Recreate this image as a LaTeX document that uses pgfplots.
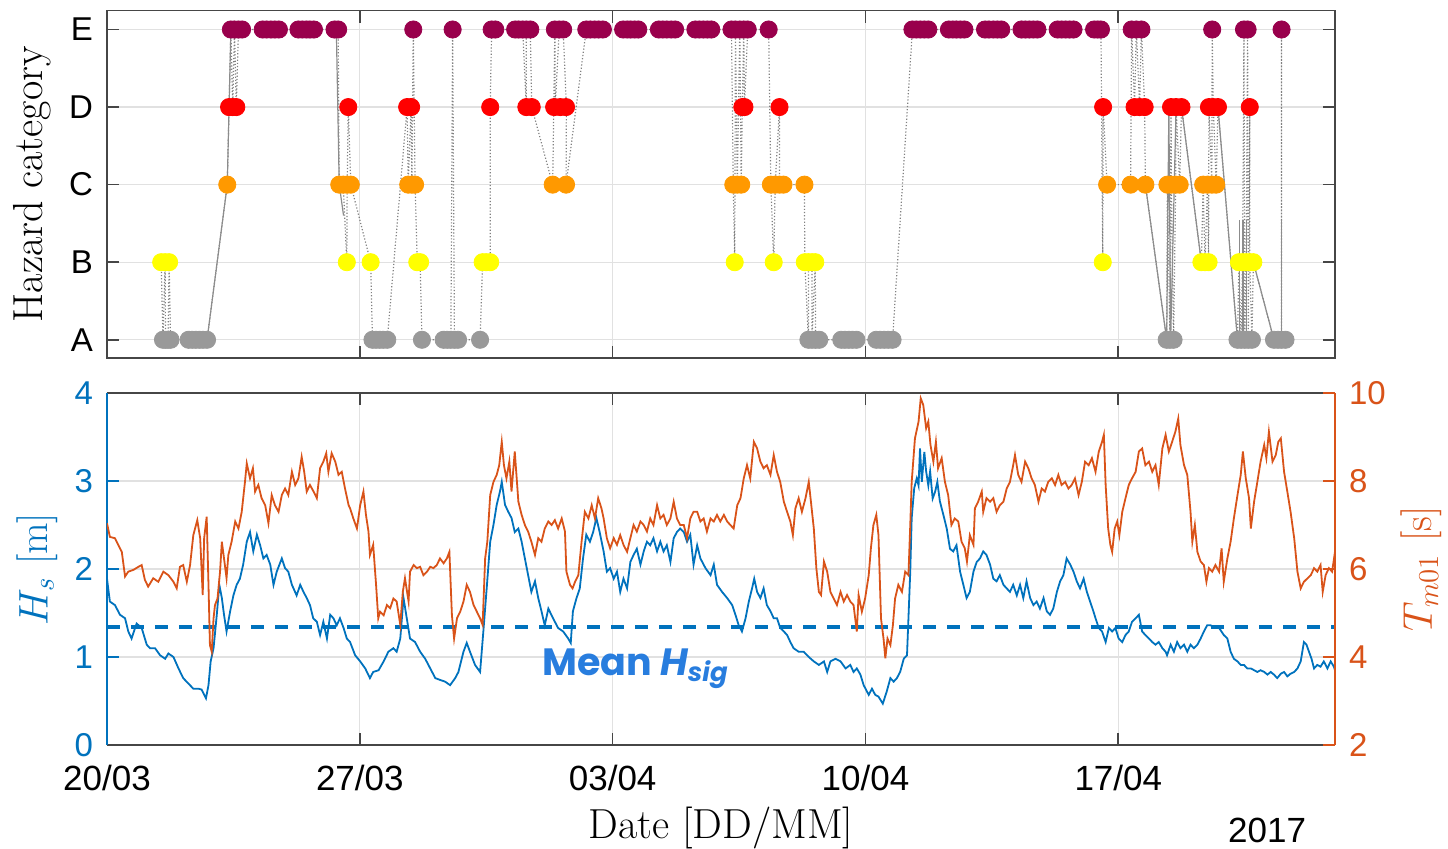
\documentclass[border=0pt]{standalone}
\usepackage{fontspec}
\usepackage{pgfplots}
\pgfplotsset{compat=1.18}
\newfontfamily\tickfont{Liberation Sans}
\newfontfamily\poppins{Poppins}
\definecolor{hsblue}{RGB}{0,114,189}
\definecolor{tmorange}{RGB}{217,83,25}
\definecolor{meanblue}{RGB}{40,125,222}
\definecolor{catE}{RGB}{153,0,76}
\definecolor{catD}{RGB}{255,0,0}
\definecolor{catC}{RGB}{255,153,0}
\definecolor{catB}{RGB}{255,255,0}
\definecolor{catA}{RGB}{153,153,153}
\definecolor{framec}{RGB}{70,70,70}
\definecolor{gridc}{RGB}{225,225,225}
\pgfplotsset{
  common/.style={
    scale only axis, width=614pt, xmin=0, xmax=34,
    xtick={0,7,14,21,28},
    tick align=inside, major tick length=6pt,
    grid style={gridc, line width=0.6pt},
    /pgf/number format/assume math mode=true,
  },
  solidlink/.style={color=black!45, line width=0.6pt},
}
\begin{document}
\begin{tikzpicture}
\path[use as bounding box] (-53.5pt,-51.5pt) rectangle (670.5pt,372.5pt);

% ---------------- top panel: hazard category ----------------
\begin{axis}[common, at={(0pt,193.5pt)}, anchor=south west, height=173.75pt,
  ymin=0.765, ymax=5.245, ytick={1,2,3,4,5}, yticklabels={A,B,C,D,E},
  xticklabels={},
  xmajorgrids, ymajorgrids,
  axis line style={framec, line width=0.9pt}, tick style={framec, line width=0.8pt},
  yticklabel style={font=\tickfont\fontsize{16.5}{16.5}\selectfont, xshift=-3.5pt},
  ylabel={Hazard category},
  ylabel style={font=\fontsize{21}{24}\selectfont, at={(axis description cs:-0.0607,0.5)}, anchor=center},
]
\addplot[color=black!50, densely dotted, line width=0.6pt] coordinates {
(1.50,2) (1.55,1) (1.61,2) (1.62,1) (1.69,1) (1.72,2) (1.76,1) (2.26,1) (2.36,1) (2.46,1) (2.56,1) (2.66,1) (2.77,1)
(3.33,3) (3.38,4) (3.43,5) (3.48,4) (3.53,5) (3.58,4) (3.64,5) (3.74,5) (4.31,5) (4.76,5) (5.30,5) (5.73,5) (6.30,5) (6.40,5)
(6.43,3) (6.54,3) (6.64,2) (6.65,3) (6.68,4) (6.75,3) (7.30,2) (7.35,1) (7.76,1) (8.31,4) (8.34,3) (8.42,4) (8.44,3) (8.48,5)
(8.53,3) (8.59,2) (8.67,2) (8.72,1) (9.32,1) (9.52,1) (9.57,5) (9.62,1) (9.72,1) (10.33,1) (10.40,2) (10.61,2) (10.61,4)
(10.65,5) (10.75,5) (11.30,5) (11.51,5) (11.61,4) (11.61,5) (11.72,5) (11.76,4) (12.34,3) (12.40,5) (12.41,4) (12.52,5)
(12.63,5) (12.72,4) (12.71,3) (13.27,5) (17.29,5) (17.34,3) (17.38,2) (17.40,5) (17.45,3) (17.52,5) (17.56,3) (17.59,4)
(17.63,5) (17.65,4) (17.74,5) (18.32,5) (18.38,3) (18.46,2) (18.50,3) (18.62,4) (18.62,3) (18.73,3) (19.31,3) (19.32,2)
(19.42,1) (19.42,2) (19.52,2) (19.52,1) (19.61,2) (19.62,1) (19.72,1) (21.75,1) (22.30,5) (27.52,5) (27.57,2) (27.58,4)
(27.69,3) (28.34,3) (28.37,5) (28.45,4) (28.50,5) (28.59,4) (28.64,5) (28.73,4) (28.75,3) (29.34,1) (29.36,3) (29.43,1)
(29.46,4) (29.47,3) (29.53,1) (29.59,3) (29.60,4) (29.70,3) (29.75,4) (30.30,2) (30.35,3) (30.40,2) (30.47,3) (30.50,2)
(30.51,4) (30.59,3) (30.60,5) (30.63,4) (30.71,3) (30.76,4) (31.30,1) (31.34,2) (31.40,1) (31.44,2) (31.48,5) (31.50,1)
(31.54,2) (31.58,5) (31.60,1) (31.64,4) (31.64,2) (31.70,1) (31.74,2) (32.31,1) (32.52,1) (32.52,5) (32.52,1) (32.63,1)
};
\addplot[solidlink] coordinates {(2.77,1) (3.33,3) (3.38,4) (3.43,5)};
\addplot[solidlink] coordinates {(6.35,5) (6.43,3) (6.55,2.6)};
\addplot[solidlink] coordinates {(28.75,3) (29.34,1) (29.40,4) (29.45,1) (29.60,4) (29.75,4) (30.30,2)};
\addplot[solidlink] coordinates {(30.76,4) (31.30,1)};
\addplot[solidlink] coordinates {(31.36,1) (31.36,2.55)};
\addplot[solidlink] coordinates {(31.45,1) (31.45,2.55)};
\addplot[solidlink] coordinates {(31.55,1) (31.55,2.55)};
\addplot[solidlink] coordinates {(31.74,2) (32.31,1)};
\addplot[solidlink] coordinates {(32.52,1) (32.52,2.55)};
% A
\addplot[only marks, mark=*, mark size=4.3pt, color=catA] coordinates {
(1.55,1) (1.62,1) (1.69,1) (1.76,1) (2.26,1) (2.36,1) (2.46,1) (2.56,1) (2.66,1) (2.77,1)
(7.35,1) (7.45,1) (7.55,1) (7.65,1) (7.76,1) (8.72,1) (9.32,1) (9.42,1) (9.52,1) (9.62,1) (9.72,1) (10.33,1)
(19.42,1) (19.52,1) (19.62,1) (19.72,1) (20.33,1) (20.43,1) (20.54,1) (20.64,1) (20.75,1)
(21.30,1) (21.41,1) (21.52,1) (21.63,1) (21.75,1) (29.34,1) (29.43,1) (29.53,1)
(31.30,1) (31.40,1) (31.50,1) (31.60,1) (31.70,1) (32.31,1) (32.42,1) (32.52,1) (32.63,1)
};
% B
\addplot[only marks, mark=*, mark size=4.3pt, color=catB] coordinates {
(1.50,2) (1.61,2) (1.72,2) (6.64,2) (7.30,2) (8.59,2) (8.67,2) (10.40,2) (10.50,2) (10.61,2)
(17.38,2) (18.46,2) (19.32,2) (19.42,2) (19.52,2) (19.61,2) (27.57,2) (30.30,2) (30.40,2) (30.50,2)
(31.34,2) (31.44,2) (31.54,2) (31.64,2) (31.74,2)
};
% C
\addplot[only marks, mark=*, mark size=4.3pt, color=catC] coordinates {
(3.33,3) (6.43,3) (6.54,3) (6.65,3) (6.75,3) (8.34,3) (8.44,3) (8.53,3) (12.34,3) (12.71,3)
(17.34,3) (17.45,3) (17.56,3) (18.38,3) (18.50,3) (18.62,3) (18.73,3) (19.31,3) (27.69,3) (28.34,3) (28.75,3)
(29.36,3) (29.47,3) (29.59,3) (29.70,3) (30.35,3) (30.47,3) (30.59,3) (30.71,3)
};
% D
\addplot[only marks, mark=*, mark size=4.3pt, color=catD] coordinates {
(3.38,4) (3.48,4) (3.58,4) (6.68,4) (8.31,4) (8.42,4) (10.61,4) (11.61,4) (11.76,4) (12.38,4) (12.55,4) (12.71,4)
(17.59,4) (17.65,4) (18.62,4) (27.58,4) (28.45,4) (28.59,4) (28.73,4) (29.46,4) (29.60,4) (29.75,4)
(30.51,4) (30.63,4) (30.76,4) (31.64,4)
};
% E
\addplot[only marks, mark=*, mark size=4.3pt, color=catE] coordinates {
(3.43,5) (3.53,5) (3.64,5) (3.74,5) (4.31,5) (4.42,5) (4.54,5) (4.65,5) (4.76,5) (5.30,5) (5.41,5) (5.52,5) (5.62,5) (5.73,5)
(6.30,5) (6.40,5) (8.48,5) (9.57,5) (10.65,5) (10.75,5) (11.30,5) (11.40,5) (11.51,5) (11.61,5) (11.72,5)
(12.40,5) (12.52,5) (12.63,5) (13.27,5) (13.38,5) (13.50,5) (13.61,5) (13.73,5) (14.29,5) (14.40,5) (14.50,5) (14.61,5) (14.71,5)
(15.28,5) (15.39,5) (15.50,5) (15.62,5) (15.73,5) (16.29,5) (16.40,5) (16.51,5) (16.62,5) (16.73,5)
(17.29,5) (17.40,5) (17.52,5) (17.63,5) (17.74,5) (18.32,5)
(22.30,5) (22.41,5) (22.52,5) (22.63,5) (22.74,5) (23.31,5) (23.42,5) (23.52,5) (23.63,5) (23.74,5)
(24.31,5) (24.42,5) (24.54,5) (24.65,5) (24.76,5) (25.32,5) (25.43,5) (25.54,5) (25.65,5) (25.76,5)
(26.32,5) (26.43,5) (26.54,5) (26.65,5) (26.76,5) (27.33,5) (27.43,5) (27.52,5) (28.37,5) (28.50,5) (28.64,5)
(30.60,5) (31.48,5) (31.58,5) (32.52,5)
};
\end{axis}

% ---------------- bottom panel: Hs (left) ----------------
\begin{axis}[common, at={(0pt,0pt)}, anchor=south west, height=176pt,
  ymin=0, ymax=4, ytick={0,1,2,3,4}, yticklabels={0,1,2,3,4},
  xticklabels={20/03,27/03,03/04,10/04,17/04},
  axis x line*=box, axis y line*=left, separate axis lines,
  x axis line style={framec, line width=0.9pt},
  y axis line style={-, hsblue, line width=0.9pt},
  xtick style={framec, line width=0.8pt}, ytick style={hsblue, line width=0.8pt},
  tick align=inside,
  xmajorgrids, ymajorgrids,
  xticklabel style={font=\tickfont\fontsize{17.5}{17.5}\selectfont, yshift=-6.5pt},
  yticklabel style={font=\tickfont\fontsize{16.5}{16.5}\selectfont, text=hsblue, xshift=-3.5pt},
  ylabel={$H_s$ [m]},
  ylabel style={font=\fontsize{20.5}{24}\selectfont, text=hsblue, at={(axis description cs:-0.0568,0.5)}, anchor=center},
  xlabel={Date [DD/MM]},
  xlabel style={font=\fontsize{21}{24}\selectfont, at={(axis description cs:0.5,-0.237)}, anchor=center},
  clip=false,
]
\addplot[color=hsblue, line width=0.9pt] coordinates {
(0,1.89) (0.08,1.63) (0.22,1.59) (0.36,1.48) (0.50,1.44) (0.59,1.29) (0.68,1.21) (0.82,1.38) (0.96,1.33) (1.10,1.14)
(1.19,1.10) (1.33,1.10) (1.47,1.02) (1.61,0.98) (1.70,1.04) (1.84,1.00) (1.98,0.87) (2.11,0.76) (2.25,0.70) (2.39,0.64)
(2.53,0.64) (2.62,0.63) (2.74,0.53) (2.81,0.68) (2.87,0.95) (2.95,1.10) (3.04,1.48) (3.11,1.82) (3.18,1.67) (3.24,1.48)
(3.31,1.29) (3.41,1.52) (3.50,1.70) (3.59,1.82) (3.68,1.89) (3.77,2.05) (3.87,2.31) (3.96,2.42) (4.05,2.20) (4.15,2.39)
(4.24,2.27) (4.33,2.12) (4.42,2.16) (4.52,2.05) (4.61,1.82) (4.70,1.97) (4.84,2.12) (4.93,2.01) (5.02,1.97) (5.12,1.82)
(5.25,1.70) (5.35,1.82) (5.44,1.74) (5.53,1.67) (5.62,1.59) (5.71,1.44) (5.81,1.40) (5.90,1.25) (5.99,1.40) (6.09,1.21)
(6.18,1.48) (6.27,1.44) (6.36,1.36) (6.45,1.44) (6.55,1.33) (6.64,1.21)
(6.73,1.17) (6.87,1.02) (7.01,0.95) (7.15,0.87) (7.28,0.76) (7.37,0.83) (7.52,0.85) (7.66,0.95) (7.79,1.06) (7.93,1.10)
(8.02,1.06) (8.12,1.21) (8.21,1.67) (8.30,1.44) (8.39,1.21) (8.53,1.17) (8.67,1.06) (8.81,0.98) (8.95,0.87) (9.09,0.76)
(9.22,0.74) (9.36,0.72) (9.50,0.68) (9.64,0.76) (9.73,0.83) (9.87,1.06) (9.96,1.16) (10.05,1.06) (10.19,0.91) (10.33,0.83)
(10.42,1.29) (10.52,1.82) (10.61,2.31) (10.70,2.50) (10.79,2.73) (10.88,2.88) (10.93,2.99) (11.02,2.73) (11.11,2.65)
(11.20,2.58) (11.29,2.42) (11.39,2.46) (11.48,2.31) (11.57,2.12) (11.66,1.93) (11.75,1.74) (11.85,1.86) (11.94,1.67)
(12.03,1.52) (12.12,1.36) (12.22,1.55) (12.35,1.44) (12.49,1.33) (12.63,1.29) (12.77,1.21) (12.84,1.16) (12.90,1.52)
(13.00,1.67) (13.09,1.78) (13.18,2.12) (13.27,2.39) (13.37,2.31) (13.46,2.42) (13.55,2.58) (13.64,2.42)
(13.75,2.20) (13.84,1.97) (13.93,2.01) (14.03,1.89) (14.12,1.97) (14.21,1.74) (14.30,1.89) (14.40,1.78) (14.49,2.08)
(14.58,2.16) (14.67,2.23) (14.77,2.05) (14.86,2.20) (14.95,2.31) (15.04,2.27) (15.13,2.35) (15.23,2.20) (15.32,2.31)
(15.41,2.20) (15.50,2.27) (15.60,2.08) (15.69,2.35) (15.78,2.42) (15.87,2.46) (15.97,2.42) (16.06,2.31) (16.15,2.39)
(16.24,2.05) (16.34,2.27) (16.43,2.12) (16.57,2.01) (16.71,1.93) (16.80,2.05) (16.89,1.82) (17.03,1.74) (17.17,1.67)
(17.31,1.59) (17.40,1.48) (17.49,1.36) (17.58,1.29) (17.68,1.44) (17.77,1.63) (17.86,1.78) (17.92,1.89) (18.00,1.74)
(18.09,1.67) (18.18,1.78) (18.27,1.59) (18.37,1.52) (18.46,1.44) (18.55,1.44) (18.64,1.33) (18.74,1.29) (18.83,1.25)
(18.92,1.17) (19.01,1.10) (19.15,1.06) (19.29,1.06) (19.43,1.00) (19.57,0.95) (19.71,0.91) (19.85,0.95) (19.94,0.83)
(20.03,0.95) (20.17,0.98) (20.31,0.95) (20.45,0.87)
(20.58,0.91) (20.67,0.83) (20.76,0.87) (20.86,0.80) (20.95,0.68) (21.09,0.57) (21.18,0.64) (21.27,0.57) (21.36,0.55)
(21.48,0.47) (21.59,0.61) (21.69,0.76) (21.78,0.72) (21.87,0.76) (21.96,0.83) (22.06,0.98) (22.15,1.02) (22.19,1.44)
(22.24,1.97) (22.28,2.58) (22.35,2.92) (22.42,3.03) (22.47,2.95) (22.51,3.37) (22.56,2.99) (22.63,3.33) (22.68,3.11)
(22.74,2.95) (22.79,3.11) (22.86,2.80) (22.93,2.88) (22.99,2.99) (23.06,2.77) (23.16,2.61) (23.25,2.46) (23.34,2.23)
(23.43,2.20) (23.52,2.27) (23.62,1.97) (23.71,1.82) (23.80,1.67) (23.89,1.74) (23.99,1.97) (24.08,2.08) (24.17,2.12)
(24.26,2.20) (24.35,2.16) (24.45,2.05) (24.54,1.89) (24.63,1.86) (24.72,1.93) (24.82,1.82) (24.91,1.78) (25.00,1.74)
(25.09,1.82) (25.19,1.70) (25.28,1.82) (25.37,1.67) (25.46,1.86) (25.56,1.67) (25.65,1.59) (25.74,1.63) (25.83,1.55)
(25.93,1.67) (26.02,1.52) (26.11,1.48) (26.20,1.55) (26.30,1.74) (26.39,1.86) (26.48,1.93) (26.57,2.12) (26.67,2.05)
(26.76,1.97) (26.85,1.86) (26.94,1.78) (27.04,1.89) (27.13,1.74) (27.22,1.63) (27.31,1.52)
(27.37,1.44) (27.46,1.33) (27.55,1.29) (27.65,1.17) (27.74,1.33) (27.83,1.29) (27.92,1.33) (28.01,1.21) (28.11,1.17)
(28.20,1.25) (28.29,1.29) (28.38,1.40) (28.48,1.44) (28.57,1.48) (28.66,1.29) (28.75,1.25) (28.85,1.21) (28.94,1.17)
(29.03,1.14) (29.12,1.17) (29.22,1.10) (29.31,1.06) (29.35,1.02) (29.45,1.14) (29.54,1.06) (29.63,1.17) (29.72,1.10)
(29.82,1.14) (29.91,1.06) (30.00,1.14) (30.09,1.10) (30.19,1.14) (30.28,1.21) (30.37,1.29) (30.46,1.36) (30.56,1.36)
(30.65,1.33) (30.79,1.33) (30.92,1.25) (31.02,1.21) (31.11,1.06) (31.20,0.98) (31.30,0.95) (31.39,0.91) (31.48,0.91)
(31.57,0.87) (31.67,0.87) (31.76,0.85) (31.85,0.83) (31.94,0.85) (32.04,0.83) (32.13,0.80) (32.22,0.83) (32.31,0.80)
(32.40,0.76) (32.50,0.81) (32.59,0.83) (32.68,0.78) (32.77,0.81) (32.87,0.83) (32.96,0.87) (33.05,0.95) (33.14,1.17)
(33.21,1.14) (33.28,1.06) (33.35,0.98) (33.42,0.87) (33.51,0.91) (33.60,0.89) (33.69,0.95) (33.79,0.87) (33.88,0.95)
(33.97,0.89) (34.00,0.85)
};
\addplot[color=hsblue, line width=1.6pt, dash pattern=on 6.5pt off 5.5pt] coordinates {(0,1.34) (34,1.34)};
\node[anchor=base west, text=meanblue, font=\poppins\bfseries\fontsize{19}{20}\selectfont] at (axis cs:11.86,0.795)
  {Mean \itshape H\raisebox{-3pt}{\fontsize{13}{14}\selectfont sig}};
\node[anchor=center, font=\tickfont\fontsize{17.5}{17.5}\selectfont] at (axis cs:32.12,-0.97) {2017};
\end{axis}

% ---------------- bottom panel: Tm01 (right) ----------------
\begin{axis}[common, at={(0pt,0pt)}, anchor=south west, height=176pt,
  ymin=2, ymax=10, ytick={2,4,6,8,10}, yticklabels={2,4,6,8,10},
  axis x line=none, axis y line*=right,
  y axis line style={-, tmorange, line width=0.9pt},
  ytick style={tmorange, line width=0.8pt}, tick align=inside,
  yticklabel style={font=\tickfont\fontsize{16.5}{16.5}\selectfont, text=tmorange, xshift=3.5pt},
  ylabel={$T_{m01}$ [s]},
  ylabel style={font=\fontsize{20.5}{24}\selectfont, text=tmorange, at={(axis description cs:1.0706,0.5)}, anchor=center},
]
\addplot[color=tmorange, line width=0.9pt] coordinates {
(0,7.04) (0.08,6.73) (0.22,6.70) (0.31,6.55) (0.41,6.39) (0.50,5.83) (0.59,5.94) (0.73,5.98) (0.87,6.05) (0.96,6.09)
(1.05,5.75) (1.14,5.60) (1.28,5.79) (1.42,5.71) (1.56,5.94) (1.70,5.86) (1.84,5.71) (1.93,5.56) (2.02,6.05) (2.11,6.09)
(2.21,5.71) (2.30,6.09) (2.39,6.77) (2.50,7.11) (2.58,6.70) (2.65,5.41) (2.69,6.70) (2.76,7.19) (2.81,5.64) (2.85,4.27)
(2.90,4.12) (2.95,4.88) (2.99,5.18) (3.06,5.33) (3.13,5.94) (3.18,6.62) (3.24,6.24) (3.31,5.79) (3.36,6.32) (3.45,6.62)
(3.55,7.08) (3.64,6.92) (3.73,7.30) (3.82,7.98) (3.87,8.40) (3.96,8.06) (4.04,8.29) (4.10,7.76) (4.19,7.91) (4.28,7.61)
(4.38,7.45) (4.47,7.04) (4.56,7.68) (4.65,7.45) (4.75,7.30) (4.84,7.68) (4.93,7.83) (5.02,7.68) (5.12,8.21) (5.21,7.91)
(5.30,8.06) (5.39,8.55) (5.46,8.21) (5.53,7.76) (5.62,7.91) (5.72,7.76) (5.81,7.61) (5.90,8.29) (5.99,8.44) (6.07,8.63)
(6.13,8.21) (6.22,8.63) (6.32,8.44) (6.41,8.14) (6.50,8.21) (6.59,7.83) (6.69,7.45)
(6.73,7.38) (6.82,7.15) (6.92,6.92) (7.01,7.45) (7.10,7.76) (7.17,7.23) (7.24,6.85) (7.28,6.32) (7.37,6.55) (7.45,5.64)
(7.51,4.88) (7.56,5.03) (7.66,4.95) (7.75,5.18) (7.84,5.11) (7.93,5.33) (8.02,5.26) (8.12,4.73) (8.19,5.48) (8.25,5.79)
(8.35,5.26) (8.39,5.94) (8.49,6.09) (8.58,6.02) (8.67,6.05) (8.76,5.86) (8.86,5.94) (8.95,6.05) (9.04,6.02) (9.13,6.09)
(9.22,6.24) (9.32,6.13) (9.41,6.24) (9.48,6.39) (9.55,4.95) (9.61,4.42) (9.69,4.88) (9.78,5.03) (9.87,5.26) (9.96,5.64)
(10.05,5.48) (10.15,5.18) (10.24,5.03) (10.33,4.88) (10.40,4.73) (10.47,6.24) (10.53,6.62) (10.61,7.68) (10.70,7.98)
(10.79,8.14) (10.86,8.36) (10.93,8.89) (10.99,8.36) (11.06,8.06) (11.14,8.44) (11.20,7.76) (11.29,8.67) (11.39,7.53)
(11.48,7.23) (11.57,7.00) (11.66,6.85) (11.75,6.62) (11.85,6.32) (11.94,6.70) (12.03,6.62) (12.12,6.92) (12.22,7.08)
(12.31,7.00) (12.40,7.11) (12.49,6.92) (12.59,7.15) (12.68,6.85) (12.72,5.94) (12.82,5.64) (12.89,5.56) (12.96,5.71)
(13.05,5.86) (13.14,6.62) (13.23,7.30) (13.33,7.15) (13.42,7.45) (13.51,7.15) (13.60,7.61) (13.69,7.38)
(13.75,7.15) (13.84,6.70) (13.93,6.47) (14.03,6.70) (14.12,6.55) (14.21,6.77) (14.30,6.55) (14.40,6.39) (14.49,6.70)
(14.58,7.00) (14.67,6.85) (14.77,7.08) (14.86,7.00) (14.95,6.85) (15.04,7.15) (15.13,7.00) (15.23,7.45) (15.32,7.15)
(15.41,7.23) (15.50,7.00) (15.60,7.15) (15.69,7.53) (15.78,7.15) (15.87,7.00) (15.97,7.00) (16.06,6.70) (16.15,7.15)
(16.24,7.30) (16.34,7.30) (16.43,7.08) (16.52,7.15) (16.61,6.85) (16.71,7.15) (16.80,7.08) (16.89,7.23) (16.98,7.08)
(17.08,7.23) (17.17,7.08) (17.26,7.00) (17.35,6.92) (17.45,7.45) (17.54,7.61) (17.63,8.06) (17.72,8.36) (17.81,8.06)
(17.91,8.89) (18.00,8.74) (18.09,8.44) (18.18,8.29) (18.27,8.36) (18.37,8.14) (18.46,8.59) (18.55,8.21) (18.64,7.98)
(18.74,7.53) (18.83,7.30) (18.92,7.08) (18.99,6.77) (19.06,7.38) (19.15,7.61) (19.24,7.30) (19.34,7.61) (19.43,7.98)
(19.49,7.53) (19.57,6.92) (19.64,6.02) (19.71,5.48) (19.77,5.41) (19.85,6.17) (19.94,5.94) (20.03,5.48) (20.12,5.33)
(20.21,5.18) (20.31,5.48) (20.40,5.26) (20.49,5.41)
(20.58,5.26) (20.67,5.18) (20.76,4.58) (20.81,5.41) (20.90,5.03) (20.99,5.33) (21.09,5.86) (21.15,6.47) (21.22,7.00)
(21.30,7.23) (21.36,6.77) (21.43,4.88) (21.50,4.42) (21.55,3.97) (21.61,4.42) (21.69,4.27) (21.76,4.73) (21.82,5.33)
(21.91,5.64) (22.01,5.48) (22.10,5.94) (22.19,5.86) (22.24,7.00) (22.28,7.98) (22.37,8.97) (22.47,9.35) (22.53,9.88)
(22.60,9.73) (22.68,9.20) (22.74,9.35) (22.80,8.82) (22.88,8.44) (22.95,8.89) (23.01,8.29) (23.11,8.52) (23.20,7.98)
(23.29,7.68) (23.38,7.00) (23.47,7.15) (23.57,7.08) (23.66,6.62) (23.75,6.47) (23.81,6.17) (23.89,6.77) (23.99,6.55)
(24.03,7.38) (24.12,7.53) (24.22,7.76) (24.26,7.30) (24.35,7.61) (24.45,7.53) (24.54,7.61) (24.63,7.30) (24.72,7.45)
(24.82,7.53) (24.91,7.83) (25.00,7.98) (25.09,8.36) (25.14,8.59) (25.23,8.14) (25.32,7.98) (25.42,8.44) (25.51,8.29)
(25.60,8.06) (25.69,7.91) (25.79,7.53) (25.88,7.83) (25.97,7.76) (26.06,7.98) (26.16,8.06) (26.25,7.91) (26.34,8.14)
(26.43,7.91) (26.53,7.98) (26.62,7.83) (26.71,7.91) (26.80,8.06) (26.90,7.68) (26.99,7.98) (27.08,8.44) (27.18,8.36)
(27.27,8.52)
(27.37,8.21) (27.46,8.67) (27.55,8.89) (27.60,9.05) (27.65,7.91) (27.72,6.92) (27.78,6.55) (27.83,6.39) (27.90,6.92)
(27.97,7.08) (28.03,6.77) (28.11,7.30) (28.20,7.61) (28.29,7.91) (28.38,8.06) (28.48,8.21) (28.57,8.67) (28.66,8.74)
(28.75,8.36) (28.85,8.44) (28.94,8.21) (29.03,8.36) (29.12,7.91) (29.22,8.74) (29.31,9.05) (29.40,8.67) (29.49,8.89)
(29.58,9.12) (29.66,9.42) (29.72,8.82) (29.82,8.36) (29.91,8.14) (30.00,7.30) (30.05,6.62) (30.12,7.00) (30.19,6.39)
(30.28,6.17) (30.37,6.09) (30.44,5.71) (30.51,6.02) (30.60,5.94) (30.69,6.09) (30.79,5.94) (30.86,6.47) (30.92,5.71)
(31.02,6.24) (31.11,6.62) (31.20,7.15) (31.30,7.68) (31.39,8.14) (31.45,8.67) (31.53,8.06) (31.62,7.61) (31.67,6.92)
(31.76,7.53) (31.85,7.98) (31.94,8.44) (32.04,8.82) (32.10,8.52) (32.17,9.12) (32.27,8.44) (32.36,8.59) (32.43,8.89)
(32.50,8.97) (32.59,8.21) (32.68,7.76) (32.77,7.30) (32.87,6.70) (32.96,5.94) (33.05,5.56) (33.14,5.71) (33.24,5.79)
(33.33,5.86) (33.42,6.02) (33.51,5.94) (33.60,6.09) (33.66,5.48) (33.74,5.86) (33.83,6.02) (33.92,5.94) (34.00,6.39)
};
\end{axis}
\end{tikzpicture}
\end{document}
